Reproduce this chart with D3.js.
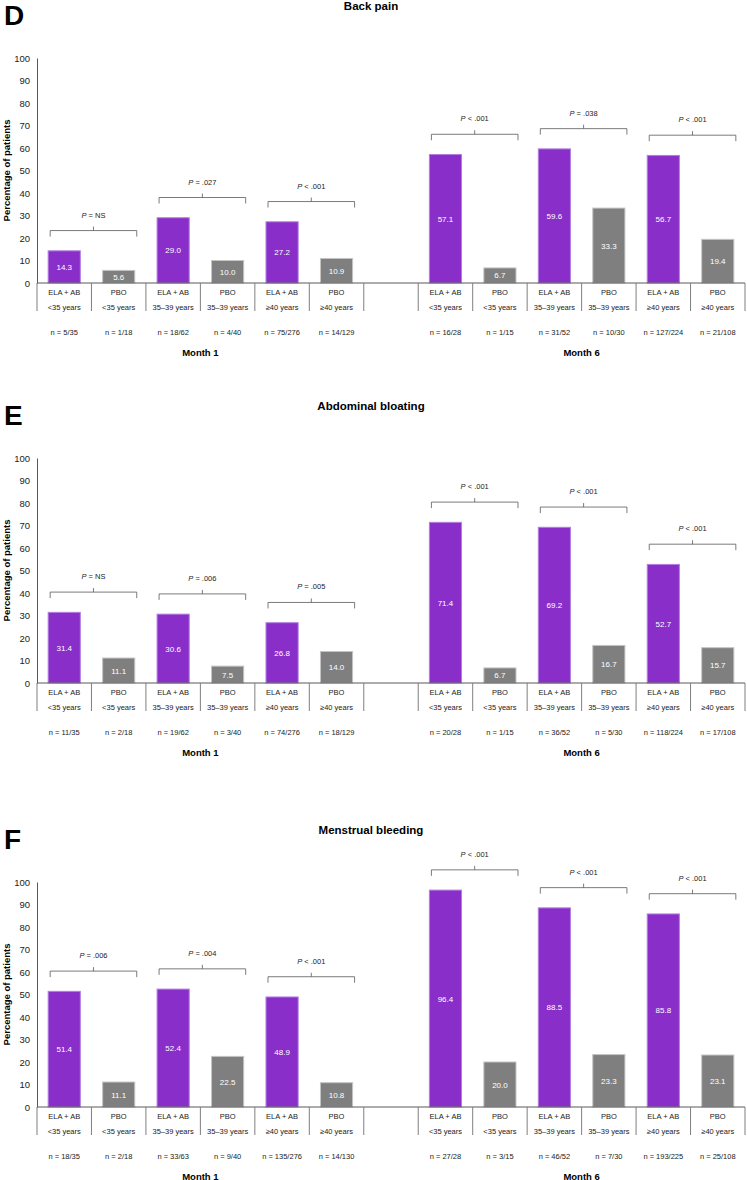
<!DOCTYPE html>
<html>
<head>
<meta charset="utf-8">
<script src="https://cdn.jsdelivr.net/npm/d3@7"></script>
<style>
  body { margin: 0; background: #fff; }
  svg { display: block; font-family: "Liberation Sans", Arial, sans-serif; }
</style>
</head>
<body>
<div id="chart"></div>
<script>
// categories
var treatments = ['ELA + AB', 'PBO', 'ELA + AB', 'PBO', 'ELA + AB', 'PBO'];
var ageGroups = ['<35 years', '<35 years', '35\u201339 years', '35\u201339 years', '\u226540 years', '\u226540 years'];
var months = ['Month 1', 'Month 6'];
var yTicks = [0, 10, 20, 30, 40, 50, 60, 70, 80, 90, 100];

// D - back pain (month 1 then month 6)
var backPain = [14.3, 5.6, 29.0, 10.0, 27.2, 10.9, 57.1, 6.7, 59.6, 33.3, 56.7, 19.4];
var backPainN = ['5/35', '1/18', '18/62', '4/40', '75/276', '14/129', '16/28', '1/15', '31/52', '10/30', '127/224', '21/108'];
var backPainP = ['= NS', '= .027', '< .001', '< .001', '= .038', '< .001'];

// E - abdominal bloating
var bloating = [31.4, 11.1, 30.6, 7.5, 26.8, 14.0, 71.4, 6.7, 69.2, 16.7, 52.7, 15.7];
var bloatingN = ['11/35', '2/18', '19/62', '3/40', '74/276', '18/129', '20/28', '1/15', '36/52', '5/30', '118/224', '17/108'];
var bloatingP = ['= NS', '= .006', '= .005', '< .001', '< .001', '< .001'];

// F - menstrual bleeding
var bleeding = [51.4, 11.1, 52.4, 22.5, 48.9, 10.8, 96.4, 20.0, 88.5, 23.3, 85.8, 23.1];
var bleedingN = ['18/35', '2/18', '33/63', '9/40', '135/276', '14/130', '27/28', '3/15', '46/52', '7/30', '193/225', '25/108'];
var bleedingP = ['= .006', '= .004', '< .001', '< .001', '< .001', '< .001'];

var panels = [
  { letter: 'D', title: 'Back pain', values: backPain, n: backPainN, p: backPainP, top: 0 },
  { letter: 'E', title: 'Abdominal bloating', values: bloating, n: bloatingN, p: bloatingP, top: 400 },
  { letter: 'F', title: 'Menstrual bleeding', values: bleeding, n: bleedingN, p: bleedingP, top: 824 }
];

var width = 747, height = 1180;
var purple = '#8a2ec9', grey = '#7f7f7f';

var svg = d3.select('#chart').append('svg')
  .attr('width', width)
  .attr('height', height);

// 13 bands: 6 for month 1, an empty one, 6 for month 6
var keys = [];
treatments.forEach(function (t, i) { keys.push('m1-' + i); });
keys.push('gap');
treatments.forEach(function (t, i) { keys.push('m6-' + i); });

var x = d3.scaleBand().domain(keys).range([37, 745]).paddingInner(0).paddingOuter(0);
var barW = x.bandwidth() * 0.59;

function drawPanel(p) {
  var g = svg.append('g').attr('transform', 'translate(0,' + p.top + ')');
  var y = d3.scaleLinear().domain([0, 100]).range([283, 58]);

  g.append('text')
    .attr('x', 4).attr('y', 25)
    .attr('font-size', 28).attr('font-weight', 'bold')
    .text(p.letter);

  g.append('text')
    .attr('x', 371).attr('y', 10)
    .attr('text-anchor', 'middle')
    .attr('font-size', 11.5).attr('font-weight', 'bold')
    .text(p.title);

  // y axis
  var yAxis = g.append('g')
    .attr('transform', 'translate(37,0)')
    .call(d3.axisLeft(y).tickValues(yTicks).tickSize(0).tickSizeOuter(0).tickPadding(7));
  yAxis.select('.domain').attr('stroke', '#595959');
  yAxis.selectAll('text').attr('font-size', 9.5).attr('fill', '#222')
    .attr('font-family', '"Liberation Sans", Arial, sans-serif');

  g.append('text')
    .attr('transform', 'translate(10,' + y(50) + ') rotate(-90)')
    .attr('text-anchor', 'middle')
    .attr('font-size', 9.5).attr('font-weight', 'bold')
    .text('Percentage of patients');

  // bars
  var data = p.values.map(function (v, i) {
    var m = i < 6 ? 'm1' : 'm6';
    var k = i % 6;
    return { key: m + '-' + k, value: v, n: p.n[i], k: k };
  });

  g.selectAll('rect.bar')
    .data(data)
    .enter().append('rect')
    .attr('class', 'bar')
    .attr('x', function (d) { return x(d.key) + (x.bandwidth() - barW) / 2; })
    .attr('width', barW)
    .attr('y', function (d) { return y(d.value); })
    .attr('height', function (d) { return y(0) - y(d.value); })
    .attr('fill', function (d) { return d.k % 2 === 0 ? purple : grey; })
    .attr('stroke', function (d) { return d.k % 2 === 0 ? '#b27ee0' : '#c4c4c4'; })
    .attr('stroke-width', 1);

  g.selectAll('text.val')
    .data(data)
    .enter().append('text')
    .attr('class', 'val')
    .attr('x', function (d) { return x(d.key) + x.bandwidth() / 2; })
    .attr('y', function (d) { return (y(d.value) + y(0)) / 2 + 3; })
    .attr('text-anchor', 'middle')
    .attr('font-size', 8).attr('fill', '#fff')
    .text(function (d) { return d.value.toFixed(1); });

  // baseline + separators
  g.append('line')
    .attr('x1', 37).attr('x2', 745)
    .attr('y1', y(0)).attr('y2', y(0))
    .attr('stroke', '#595959').attr('stroke-width', 1);

  var seps = [37];
  keys.forEach(function (k) { if (k !== 'gap') seps.push(x(k) + x.bandwidth()); });
  seps.push(x('m6-0'));
  g.selectAll('line.sep')
    .data(seps)
    .enter().append('line')
    .attr('class', 'sep')
    .attr('x1', function (d) { return d; }).attr('x2', function (d) { return d; })
    .attr('y1', y(0)).attr('y2', 311)
    .attr('stroke', '#7f7f7f').attr('stroke-width', 1);

  g.selectAll('text.trt')
    .data(data)
    .enter().append('text')
    .attr('class', 'trt')
    .attr('x', function (d) { return x(d.key) + x.bandwidth() / 2; })
    .attr('y', 295)
    .attr('text-anchor', 'middle')
    .attr('font-size', 7.5).attr('fill', '#222')
    .text(function (d) { return treatments[d.k]; });

  g.selectAll('text.age')
    .data(data)
    .enter().append('text')
    .attr('class', 'age')
    .attr('x', function (d) { return x(d.key) + x.bandwidth() / 2; })
    .attr('y', 309.5)
    .attr('text-anchor', 'middle')
    .attr('font-size', 7.5).attr('fill', '#222')
    .text(function (d) { return ageGroups[d.k]; });

  g.selectAll('text.n')
    .data(data)
    .enter().append('text')
    .attr('class', 'n')
    .attr('x', function (d) { return x(d.key) + x.bandwidth() / 2; })
    .attr('y', 335)
    .attr('text-anchor', 'middle')
    .attr('font-size', 7.5).attr('fill', '#222')
    .text(function (d) { return 'n = ' + d.n; });

  g.selectAll('text.month')
    .data(months)
    .enter().append('text')
    .attr('class', 'month')
    .attr('x', function (d, i) {
      var a = i === 0 ? 'm1-0' : 'm6-0', b = i === 0 ? 'm1-5' : 'm6-5';
      return (x(a) + x(b) + x.bandwidth()) / 2;
    })
    .attr('y', 355.5)
    .attr('text-anchor', 'middle')
    .attr('font-size', 9.5).attr('font-weight', 'bold')
    .text(function (d) { return d; });

  // significance brackets, one per ELA/PBO pair
  p.p.forEach(function (pv, j) {
    var a = data[j * 2], b = data[j * 2 + 1];
    var x1 = x(a.key) + (x.bandwidth() - barW) / 2 + 2;
    var x2 = x(b.key) + (x.bandwidth() + barW) / 2 + 2;
    var yl = y(Math.max(a.value, b.value) + 9);
    var xm = (x1 + x2) / 2;
    g.append('path')
      .attr('d', 'M' + x1 + ',' + (yl + 6) + 'V' + yl + 'H' + x2 + 'V' + (yl + 6) +
        'M' + xm + ',' + yl + 'V' + (yl - 4))
      .attr('fill', 'none')
      .attr('stroke', '#595959').attr('stroke-width', 0.8);
    var t = g.append('text')
      .attr('x', xm).attr('y', yl - 13)
      .attr('text-anchor', 'middle')
      .attr('font-size', 7.5).attr('fill', '#222');
    t.append('tspan').attr('font-style', 'italic').text('P');
    t.append('tspan').text(' ' + pv);
  });
}

panels.forEach(drawPanel);
</script>
</body>
</html>
